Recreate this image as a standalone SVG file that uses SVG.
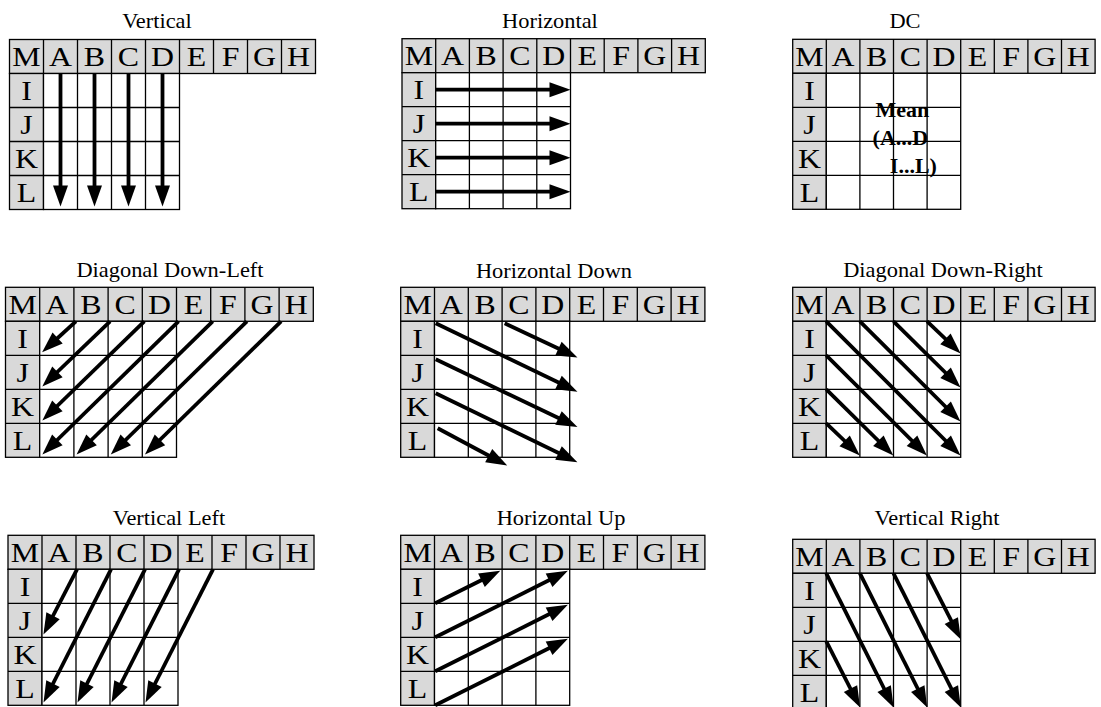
<svg xmlns="http://www.w3.org/2000/svg" width="1101" height="707" viewBox="0 0 1101 707">
<style>
.t{font-family:"Liberation Serif","Times New Roman",serif;font-size:20px;text-anchor:middle;transform-box:fill-box;transform-origin:center;transform:scaleX(1.12)}
.c{font-family:"Liberation Serif","Times New Roman",serif;font-size:27px;text-anchor:middle;transform-box:fill-box;transform-origin:center;transform:scaleX(1.18)}
.m{font-family:"Liberation Serif","Times New Roman",serif;font-size:20px;font-weight:bold;text-anchor:middle;transform-box:fill-box;transform-origin:center;transform:scaleX(1.1)}
.hd{fill:#d9d9d9;stroke:#000;stroke-width:1.3}
.bx{fill:#fff;stroke:#000;stroke-width:1.3}
.gl{fill:none;stroke:#000;stroke-width:1.3}
.ar{fill:none;stroke:#000;stroke-width:3.8;marker-end:url(#ah)}
</style>
<defs>
<marker id="ah" markerUnits="userSpaceOnUse" markerWidth="21" markerHeight="15" refX="11" refY="7.5" orient="auto" overflow="visible"><path d="M0 0L21 7.5L0 15z" fill="#000"/></marker>
</defs>
<rect width="1101" height="707" fill="#fff"/>

<!-- Panel 1: Vertical -->
<g id="p-vertical" transform="translate(9.5,39.5)">
<text class="t" x="147.5" y="-11.5">Vertical</text>
<rect class="hd" x="0" y="0" width="306" height="34"/>
<rect class="hd" x="0" y="34" width="34" height="136"/>
<rect class="bx" x="34" y="34" width="136" height="136"/>
<path class="gl" d="M34 0V34M68 0V170M102 0V170M136 0V170M170 0V34M204 0V34M238 0V34M272 0V34M0 68H170M0 102H170M0 136H170"/>
<text class="c" x="17" y="26.5">M</text><text class="c" x="51" y="26.5">A</text><text class="c" x="85" y="26.5">B</text><text class="c" x="119" y="26.5">C</text><text class="c" x="153" y="26.5">D</text><text class="c" x="187" y="26.5">E</text><text class="c" x="221" y="26.5">F</text><text class="c" x="255" y="26.5">G</text><text class="c" x="289" y="26.5">H</text>
<text class="c" x="17" y="60.5">I</text><text class="c" x="17" y="94.5">J</text><text class="c" x="17" y="128.5">K</text><text class="c" x="17" y="162.5">L</text>
</g>

<!-- Panel 2: Horizontal -->
<g id="p-horizontal" transform="translate(402,38.7)">
<text class="t" x="148" y="-10.7">Horizontal</text>
<rect class="hd" x="0" y="0" width="303.3" height="34"/>
<rect class="hd" x="0" y="34" width="33.7" height="136"/>
<rect class="bx" x="33.7" y="34" width="134.8" height="136"/>
<path class="gl" d="M33.7 0V34M67.4 0V170M101.1 0V170M134.8 0V170M168.5 0V34M202.2 0V34M235.9 0V34M269.6 0V34M0 68H168.5M0 102H168.5M0 136H168.5"/>
<text class="c" x="16.85" y="26.5">M</text><text class="c" x="50.55" y="26.5">A</text><text class="c" x="84.25" y="26.5">B</text><text class="c" x="117.95" y="26.5">C</text><text class="c" x="151.65" y="26.5">D</text><text class="c" x="185.35" y="26.5">E</text><text class="c" x="219.05" y="26.5">F</text><text class="c" x="252.75" y="26.5">G</text><text class="c" x="286.45" y="26.5">H</text>
<text class="c" x="16.85" y="60.5">I</text><text class="c" x="16.85" y="94.5">J</text><text class="c" x="16.85" y="128.5">K</text><text class="c" x="16.85" y="162.5">L</text>
</g>

<!-- Panel 3: DC -->
<g id="p-dc" transform="translate(792.7,39.3)">
<text class="t" x="112.3" y="-11.3">DC</text>
<rect class="hd" x="0" y="0" width="302.4" height="34"/>
<rect class="hd" x="0" y="34" width="33.6" height="136"/>
<rect class="bx" x="33.6" y="34" width="134.4" height="136"/>
<path class="gl" d="M33.6 0V34M67.2 0V170M100.8 0V170M134.4 0V170M168 0V34M201.6 0V34M235.2 0V34M268.8 0V34M0 68H168M0 102H168M0 136H168"/>
<text class="c" x="16.8" y="26.5">M</text><text class="c" x="50.4" y="26.5">A</text><text class="c" x="84" y="26.5">B</text><text class="c" x="117.6" y="26.5">C</text><text class="c" x="151.2" y="26.5">D</text><text class="c" x="184.8" y="26.5">E</text><text class="c" x="218.4" y="26.5">F</text><text class="c" x="252" y="26.5">G</text><text class="c" x="285.6" y="26.5">H</text>
<text class="c" x="16.8" y="60.5">I</text><text class="c" x="16.8" y="94.5">J</text><text class="c" x="16.8" y="128.5">K</text><text class="c" x="16.8" y="162.5">L</text>
<text class="m" x="109.7" y="77.4">Mean</text>
<text class="m" x="107.7" y="105.7">(A...D</text>
<text class="m" x="120.7" y="134">I...L)</text>
</g>

<!-- Panel 4: Diagonal Down-Left -->
<g id="p-diagonal-down-left" transform="translate(5.5,287.3)">
<text class="t" x="164.5" y="-10.3">Diagonal Down-Left</text>
<rect class="hd" x="0" y="0" width="307.8" height="34"/>
<rect class="hd" x="0" y="34" width="34.2" height="136"/>
<rect class="bx" x="34.2" y="34" width="136.8" height="136"/>
<path class="gl" d="M34.2 0V34M68.4 0V170M102.6 0V170M136.8 0V170M171 0V34M205.2 0V34M239.4 0V34M273.6 0V34M0 68H171M0 102H171M0 136H171"/>
<text class="c" x="17.1" y="26.5">M</text><text class="c" x="51.3" y="26.5">A</text><text class="c" x="85.5" y="26.5">B</text><text class="c" x="119.7" y="26.5">C</text><text class="c" x="153.9" y="26.5">D</text><text class="c" x="188.1" y="26.5">E</text><text class="c" x="222.3" y="26.5">F</text><text class="c" x="256.5" y="26.5">G</text><text class="c" x="290.7" y="26.5">H</text>
<text class="c" x="17.1" y="60.5">I</text><text class="c" x="17.1" y="94.5">J</text><text class="c" x="17.1" y="128.5">K</text><text class="c" x="17.1" y="162.5">L</text>
</g>

<!-- Panel 5: Horizontal Down -->
<g id="p-horizontal-down" transform="translate(400.7,287.3)">
<text class="t" x="153.3" y="-9.8">Horizontal Down</text>
<rect class="hd" x="0" y="0" width="304.2" height="34"/>
<rect class="hd" x="0" y="34" width="33.8" height="136"/>
<rect class="bx" x="33.8" y="34" width="135.2" height="136"/>
<path class="gl" d="M33.8 0V34M67.6 0V170M101.4 0V170M135.2 0V170M169 0V34M202.8 0V34M236.6 0V34M270.4 0V34M0 68H169M0 102H169M0 136H169"/>
<text class="c" x="16.9" y="26.5">M</text><text class="c" x="50.7" y="26.5">A</text><text class="c" x="84.5" y="26.5">B</text><text class="c" x="118.3" y="26.5">C</text><text class="c" x="152.1" y="26.5">D</text><text class="c" x="185.9" y="26.5">E</text><text class="c" x="219.7" y="26.5">F</text><text class="c" x="253.5" y="26.5">G</text><text class="c" x="287.3" y="26.5">H</text>
<text class="c" x="16.9" y="60.5">I</text><text class="c" x="16.9" y="94.5">J</text><text class="c" x="16.9" y="128.5">K</text><text class="c" x="16.9" y="162.5">L</text>
</g>

<!-- Panel 6: Diagonal Down-Right -->
<g id="p-diagonal-down-right" transform="translate(792.7,287.3)">
<text class="t" x="150.3" y="-10.3">Diagonal Down-Right</text>
<rect class="hd" x="0" y="0" width="302.4" height="34"/>
<rect class="hd" x="0" y="34" width="33.6" height="136"/>
<rect class="bx" x="33.6" y="34" width="134.4" height="136"/>
<path class="gl" d="M33.6 0V34M67.2 0V170M100.8 0V170M134.4 0V170M168 0V34M201.6 0V34M235.2 0V34M268.8 0V34M0 68H168M0 102H168M0 136H168"/>
<text class="c" x="16.8" y="26.5">M</text><text class="c" x="50.4" y="26.5">A</text><text class="c" x="84" y="26.5">B</text><text class="c" x="117.6" y="26.5">C</text><text class="c" x="151.2" y="26.5">D</text><text class="c" x="184.8" y="26.5">E</text><text class="c" x="218.4" y="26.5">F</text><text class="c" x="252" y="26.5">G</text><text class="c" x="285.6" y="26.5">H</text>
<text class="c" x="16.8" y="60.5">I</text><text class="c" x="16.8" y="94.5">J</text><text class="c" x="16.8" y="128.5">K</text><text class="c" x="16.8" y="162.5">L</text>
</g>

<!-- Panel 7: Vertical Left -->
<g id="p-vertical-left" transform="translate(8,535.3)">
<text class="t" x="161" y="-10.3">Vertical Left</text>
<rect class="hd" x="0" y="0" width="306" height="34"/>
<rect class="hd" x="0" y="34" width="34" height="136"/>
<rect class="bx" x="34" y="34" width="136" height="136"/>
<path class="gl" d="M34 0V34M68 0V170M102 0V170M136 0V170M170 0V34M204 0V34M238 0V34M272 0V34M0 68H170M0 102H170M0 136H170"/>
<text class="c" x="17" y="26.5">M</text><text class="c" x="51" y="26.5">A</text><text class="c" x="85" y="26.5">B</text><text class="c" x="119" y="26.5">C</text><text class="c" x="153" y="26.5">D</text><text class="c" x="187" y="26.5">E</text><text class="c" x="221" y="26.5">F</text><text class="c" x="255" y="26.5">G</text><text class="c" x="289" y="26.5">H</text>
<text class="c" x="17" y="60.5">I</text><text class="c" x="17" y="94.5">J</text><text class="c" x="17" y="128.5">K</text><text class="c" x="17" y="162.5">L</text>
</g>

<!-- Panel 8: Horizontal Up -->
<g id="p-horizontal-up" transform="translate(400.7,535.3)">
<text class="t" x="160.3" y="-10.3">Horizontal Up</text>
<rect class="hd" x="0" y="0" width="304.2" height="34"/>
<rect class="hd" x="0" y="34" width="33.8" height="136"/>
<rect class="bx" x="33.8" y="34" width="135.2" height="136"/>
<path class="gl" d="M33.8 0V34M67.6 0V170M101.4 0V170M135.2 0V170M169 0V34M202.8 0V34M236.6 0V34M270.4 0V34M0 68H169M0 102H169M0 136H169"/>
<text class="c" x="16.9" y="26.5">M</text><text class="c" x="50.7" y="26.5">A</text><text class="c" x="84.5" y="26.5">B</text><text class="c" x="118.3" y="26.5">C</text><text class="c" x="152.1" y="26.5">D</text><text class="c" x="185.9" y="26.5">E</text><text class="c" x="219.7" y="26.5">F</text><text class="c" x="253.5" y="26.5">G</text><text class="c" x="287.3" y="26.5">H</text>
<text class="c" x="16.9" y="60.5">I</text><text class="c" x="16.9" y="94.5">J</text><text class="c" x="16.9" y="128.5">K</text><text class="c" x="16.9" y="162.5">L</text>
</g>

<!-- Panel 9: Vertical Right -->
<g id="p-vertical-right" transform="translate(792.7,539.3)">
<text class="t" x="144.3" y="-14.3">Vertical Right</text>
<rect class="hd" x="0" y="0" width="302.4" height="34"/>
<rect class="hd" x="0" y="34" width="33.6" height="136"/>
<rect class="bx" x="33.6" y="34" width="134.4" height="136"/>
<path class="gl" d="M33.6 0V34M67.2 0V170M100.8 0V170M134.4 0V170M168 0V34M201.6 0V34M235.2 0V34M268.8 0V34M0 68H168M0 102H168M0 136H168"/>
<text class="c" x="16.8" y="26.5">M</text><text class="c" x="50.4" y="26.5">A</text><text class="c" x="84" y="26.5">B</text><text class="c" x="117.6" y="26.5">C</text><text class="c" x="151.2" y="26.5">D</text><text class="c" x="184.8" y="26.5">E</text><text class="c" x="218.4" y="26.5">F</text><text class="c" x="252" y="26.5">G</text><text class="c" x="285.6" y="26.5">H</text>
<text class="c" x="16.8" y="60.5">I</text><text class="c" x="16.8" y="94.5">J</text><text class="c" x="16.8" y="128.5">K</text><text class="c" x="16.8" y="162.5">L</text>
</g>

<!-- Connectors -->
<g id="connectors">
<g id="c-vertical" transform="translate(9.5,39.5)">
<path class="ar" d="M51 34V157"/><path class="ar" d="M85 34V157"/><path class="ar" d="M119 34V157"/><path class="ar" d="M153 34V157"/>
</g>
<g id="c-horizontal" transform="translate(402,38.7)">
<path class="ar" d="M33.7 51H158.5"/><path class="ar" d="M33.7 85H158.5"/><path class="ar" d="M33.7 119H158.5"/><path class="ar" d="M33.7 153H158.5"/>
</g>
<g id="c-diagonal-down-left" transform="translate(5.5,287.3)">
<path class="ar" d="M70.4 34L44 58.2"/><path class="ar" d="M104.6 34L44 92.2"/><path class="ar" d="M138.8 34L44 126.2"/><path class="ar" d="M173 34L44 160.2"/><path class="ar" d="M207.2 34L78.2 160.2"/><path class="ar" d="M241.4 34L112.4 160.2"/><path class="ar" d="M275.6 34L146.6 160.2"/>
</g>
<g id="c-horizontal-down" transform="translate(400.7,287.3)">
<path class="ar" d="M35 36L167.7 100"/><path class="ar" d="M104 36L167.7 66"/><path class="ar" d="M35 72L167.7 135.5"/><path class="ar" d="M35 106L167.7 170.5"/><path class="ar" d="M37 141L97.7 173.5"/>
</g>
<g id="c-diagonal-down-right" transform="translate(792.7,287.3)">
<path class="ar" d="M33.6 34L160.7 161.2"/><path class="ar" d="M67.2 34L160.7 127.2"/><path class="ar" d="M100.8 34L160.7 93.2"/><path class="ar" d="M134.4 34L160.7 59.2"/><path class="ar" d="M33.6 68L127.1 161.2"/><path class="ar" d="M33.6 102L93.5 161.2"/><path class="ar" d="M33.6 136L59.9 161.2"/>
</g>
<g id="c-vertical-left" transform="translate(8,535.3)">
<path class="ar" d="M69 34L40 90.2"/><path class="ar" d="M103 34L40 158.2"/><path class="ar" d="M137 34L74 158.2"/><path class="ar" d="M171 34L108 158.2"/><path class="ar" d="M205 34L142 158.2"/>
</g>
<g id="c-horizontal-up" transform="translate(400.7,535.3)">
<path class="ar" d="M34.5 68L90.6 40"/><path class="ar" d="M34.5 102L158.2 40"/><path class="ar" d="M34.5 136L158.2 74"/><path class="ar" d="M34.5 170L158.2 108"/>
</g>
<g id="c-vertical-right" transform="translate(792.7,539.3)">
<path class="ar" d="M33.6 34L96.4 159.2"/><path class="ar" d="M67.2 34L130 159.2"/><path class="ar" d="M100.8 34L163.6 159.2"/><path class="ar" d="M134.4 34L163.6 91.2"/><path class="ar" d="M33.6 102L62.8 159.2"/>
</g>
</g>
</svg>
